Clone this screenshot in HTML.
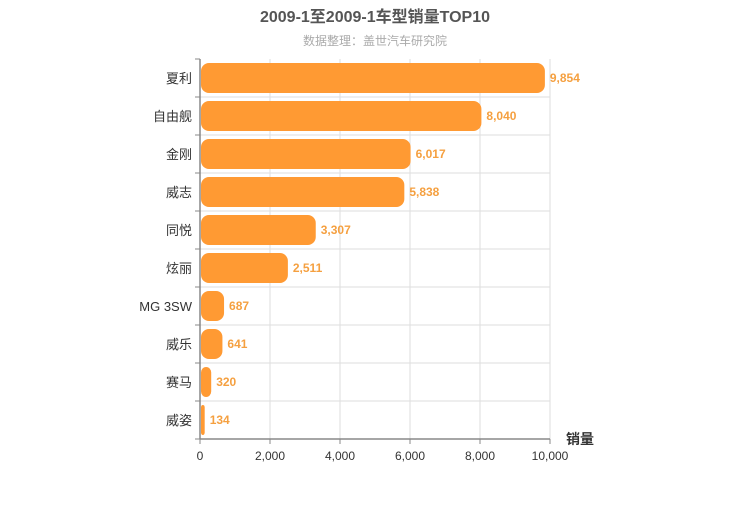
<!DOCTYPE html>
<html><head><meta charset="utf-8"><style>
body{margin:0;background:#fff;font-family:"Liberation Sans","Noto Sans CJK SC",sans-serif}
</style></head><body>
<svg id="c" width="750" height="500" xmlns="http://www.w3.org/2000/svg" font-family="Liberation Sans, Noto Sans CJK SC, sans-serif">
<text x="375" y="22" text-anchor="middle" font-size="16" font-weight="bold" fill="#555">2009-1至2009-1车型销量TOP10</text>
<text x="375" y="45" text-anchor="middle" font-size="12" fill="#aaa">数据整理：盖世汽车研究院</text>
<g id="grid"></g><g id="bars"></g><g id="axes"></g>
<text x="580" y="444" text-anchor="middle" font-size="14" font-weight="bold" fill="#333">销量</text>
</svg>
<script>
const categories=["夏利","自由舰","金刚","威志","同悦","炫丽","MG 3SW","威乐","赛马","威姿"];
const values=[9854,8040,6017,5838,3307,2511,687,641,320,134];
const ticks=[0,2000,4000,6000,8000,10000];
const NS="http://www.w3.org/2000/svg";
const x0=200,x1=550,y0=59,band=38,max=10000;
const xs=v=>x0+(v/max)*(x1-x0);
const ys=i=>y0+i*band;
function mk(tag,attrs,parent){const e=document.createElementNS(NS,tag);for(const k in attrs)e.setAttribute(k,attrs[k]);parent.appendChild(e);return e;}
const grid=document.getElementById('grid'),bars=document.getElementById('bars'),axes=document.getElementById('axes');
ticks.forEach(t=>{
 const l=mk('line',{x1:xs(t),x2:xs(t),y1:y0,y2:y0+band*categories.length,stroke:'#ddd'},grid);
 
 
 const tx=mk('text',{x:xs(t),y:460,'text-anchor':'middle','font-size':12,fill:'#333'},axes);
 tx.textContent=t.toLocaleString('en-US');
 
 
 const tk=mk('line',{x1:xs(t),x2:xs(t),y1:439,y2:444,stroke:'#888'},axes);
 
 
});
categories.forEach((c,i)=>{
 const g=mk('line',{x1:x0,x2:x1,y1:ys(i+1),y2:ys(i+1),stroke:'#ddd'},grid);
 
 
 const w=Math.max(xs(values[i])-x0,4);
 const r=mk('rect',{x:x0+1,y:ys(i)+4,width:w-1,height:band-8,rx:Math.min(8,w/2),fill:'#ff9a33'},bars);
 
 
 const v=mk('text',{x:xs(values[i])+5,y:ys(i)+band/2+4,'font-size':12,'font-weight':'bold',fill:'#f5a040'},bars);
 v.textContent=values[i].toLocaleString('en-US');
 
 
 const lb=mk('text',{x:x0-8,y:ys(i)+band/2+5,'text-anchor':'end','font-size':13,fill:'#333'},axes);
 lb.textContent=c;
 
 
 const tk=mk('line',{x1:x0-5,x2:x0,y1:ys(i),y2:ys(i),stroke:'#888'},axes);
 
 
});
const ya=mk('line',{x1:x0,x2:x0,y1:y0,y2:439,stroke:'#888',"stroke-width":1.5},axes);


const xa=mk('line',{x1:x0,x2:x1,y1:439,y2:439,stroke:'#888',"stroke-width":1.5},axes);


const bt=mk('line',{x1:x0-5,x2:x0,y1:439,y2:439,stroke:'#888'},axes);


</script>
</body></html>
